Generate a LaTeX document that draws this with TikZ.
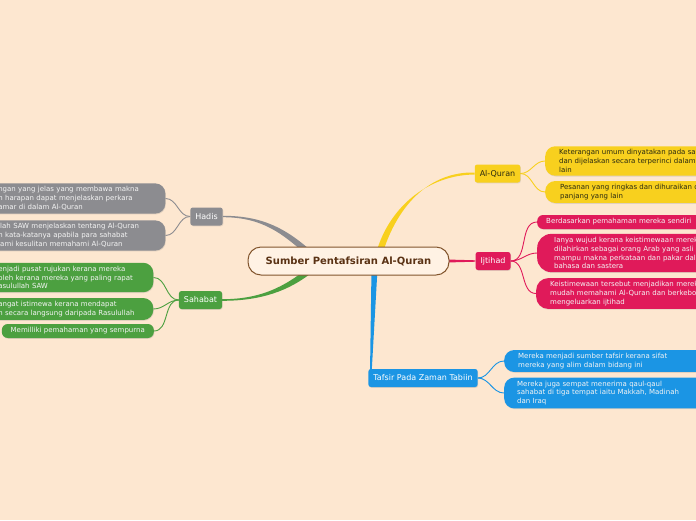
\documentclass[tikz,border=0pt]{standalone}
\usepackage{fontspec}
\setmainfont{DejaVu Sans}
\usetikzlibrary{calc,shadows}
\definecolor{bgc}{HTML}{FDE7D0}
\definecolor{cyel}{HTML}{F8D01E}
\definecolor{cred}{HTML}{E01A5A}
\definecolor{cblue}{HTML}{1B95E4}
\definecolor{cgray}{HTML}{8C8C90}
\definecolor{cgreen}{HTML}{4CA040}
\definecolor{ccream}{HTML}{FFF2E4}
\definecolor{cbrown}{HTML}{82552D}
\definecolor{ctitle}{HTML}{5A3214}
\definecolor{cdark}{HTML}{2A2A10}
\definecolor{clight}{HTML}{F4F4F4}
\pgfdeclarelayer{back}
\pgfdeclarelayer{bg}
\pgfsetlayers{back,bg,main}
\tikzset{
  shad/.style={drop shadow={opacity=0.22, shadow xshift=0.6pt, shadow yshift=-0.8pt}},
  mainbox/.style={shad, rounded corners=2.5pt, inner xsep=5pt, inner ysep=0pt,
    minimum height=18pt, font=\fontsize{8}{9.6}\selectfont},
  leafbox/.style={shad, align=left, inner ysep=3.2pt, rounded corners=10pt,
    font=\fontsize{7}{8.8}\selectfont},
  leafR/.style={leafbox, anchor=west, text width=200pt},
  leafL/.style={leafbox, anchor=east, inner xsep=12pt, text width=155pt},
  subline/.style={line width=0.9pt}
}
\begin{document}
\begin{tikzpicture}[x=1pt,y=-1pt]
\useasboundingbox (0,0) rectangle (696,520);
\clip (0,0) rectangle (696,520);
\begin{pgfonlayer}{back}
\fill[bgc] (0,0) rectangle (696,520);
\end{pgfonlayer}

% central
\node[draw=cbrown, line width=1pt, fill=ccream, rounded corners=13pt,
  minimum width=201pt, minimum height=28pt, inner sep=0pt,
  font=\fontsize{10}{12}\selectfont\bfseries, text=ctitle] (center) at (348.5,261) {Sumber Pentafsiran Al-Quran};

% main branches
\node[mainbox, fill=cyel, text=cdark] (alq) at (497.5,173.5) {Al-Quran};
\node[mainbox, fill=cred, text=white] (ijt) at (493,261) {Ijtihad};
\node[mainbox, fill=cblue, text=white] (tabiin) at (423,378) {Tafsir Pada Zaman Tabiin};
\node[mainbox, fill=cgray, text=white] (hadis) at (206.5,216.5) {Hadis};
\node[mainbox, fill=cgreen, text=white] (sahabat) at (200.5,300) {Sahabat};

% Al-Quran leaves
\node[leafR, fill=cyel, text=cdark, inner xsep=14pt] (aq1) at (545,161)
  {Keterangan umum dinyatakan pada sa\\dan dijelaskan secara terperinci dalam\\lain};
\node[leafR, fill=cyel, text=cdark, inner xsep=15pt] (aq2) at (545,192)
  {Pesanan yang ringkas dan dihuraikan d\\panjang yang lain};

% Ijtihad leaves
\node[leafR, fill=cred, text=clight, inner xsep=9pt, rounded corners=6pt, minimum height=14pt] (ij1) at (537,222)
  {Berdasarkan pemahaman mereka sendiri};
\node[leafR, fill=cred, text=clight, inner xsep=17pt, rounded corners=14pt] (ij2) at (537,253)
  {Ianya wujud kerana keistimewaan merek\\dilahirkan sebagai orang Arab yang asli y\\mampu makna perkataan dan pakar dal\\bahasa dan sastera};
\node[leafR, fill=cred, text=clight, inner xsep=14pt, rounded corners=12pt] (ij3) at (536,293.5)
  {Keistimewaan tersebut menjadikan merek\\mudah memahami Al-Quran dan berkebo\\mengeluarkan ijtihad};

% Tabiin leaves
\node[leafR, fill=cblue, text=clight, inner xsep=14pt] (tb1) at (504,361)
  {Mereka menjadi sumber tafsir kerana sifat\\mereka yang alim dalam bidang ini};
\node[leafR, fill=cblue, text=clight, inner xsep=13pt] (tb2) at (504,393)
  {Mereka juga sempat menerima qaul-qaul\\sahabat di tiga tempat iaitu Makkah, Madinah\\dan Iraq};

% Hadis leaves
\node[leafL, fill=cgray, text=clight] (hd1) at (165.5,198.5)
  {ngan yang jelas yang membawa makna\\n harapan dapat menjelaskan perkara\\amar di dalam Al-Quran};
\node[leafL, fill=cgray, text=clight] (hd2) at (165.5,235.5)
  {llah SAW menjelaskan tentang Al-Quran\\n kata-katanya apabila para sahabat\\lami kesulitan memahami Al-Quran};

% Sahabat leaves
\node[leafL, fill=cgreen, text=clight, text width=143pt] (sb1) at (153.5,277.5)
  {enjadi pusat rujukan kerana mereka\\oleh kerana mereka yang paling rapat\\asulullah SAW};
\node[leafL, fill=cgreen, text=clight, text width=143pt] (sb2) at (153.5,309)
  {angat istimewa kerana mendapat\\n secara langsung daripada Rasulullah};
\node[leafbox, anchor=east, align=center, fill=cgreen, text=clight, rounded corners=6pt,
  minimum width=152pt, minimum height=14pt, inner xsep=4pt] (sb3) at (154,331)
  {Memilliki pemahaman yang sempurna};

\begin{pgfonlayer}{bg}
% tapered main connectors
\fill[cgray] ($(hadis.east)+(0,-0.7)$) .. controls +(40,0) and +(-25,-22) .. ($(center)+(-37.4,-10.2)$)
  -- ($(center)+(-41.6,-5.8)$) .. controls +(-24,-21) and +(40,0) .. ($(hadis.east)+(0,0.7)$) -- cycle;
\fill[cgreen] ($(sahabat.east)+(0,-0.8)$) .. controls +(40,0) and +(-22,17) .. ($(center)+(-41.4,7.7)$)
  -- ($(center)+(-37.6,12.3)$) .. controls +(-22,17) and +(40,0) .. ($(sahabat.east)+(0,0.8)$) -- cycle;
\fill[cyel] ($(alq.west)+(0,-1)$) .. controls +(-45,-1) and +(15,-47) .. ($(center)+(34.5,-9)$)
  -- ($(center)+(28.5,-11)$) .. controls +(14,-45) and +(-45,0.5) .. ($(alq.west)+(0,1)$) -- cycle;
\fill[cblue] ($(center)+(23,8)$) -- ($(center)+(29,8)$) -- ($(tabiin.north west)+(3.5,2)$)
  -- ($(tabiin.north west)+(1.8,2)$) -- cycle;
\fill[cred] ($(center.east)+(-3,-1.5)$) -- ($(ijt.west)+(0,-0.7)$) -- ($(ijt.west)+(0,0.7)$)
  -- ($(center.east)+(-3,1.5)$) -- cycle;

% sub connectors
\draw[subline, cyel] (alq.east) to[out=0,in=180] (aq1.west);
\draw[subline, cyel] (alq.east) to[out=0,in=180] (aq2.west);
\draw[subline, cred] (ijt.east) to[out=0,in=180] (ij1.west);
\draw[subline, cred] (ijt.east) to[out=0,in=180] (ij2.west);
\draw[subline, cred] (ijt.east) to[out=0,in=180] (ij3.west);
\draw[subline, cblue] (tabiin.east) to[out=0,in=180] (tb1.west);
\draw[subline, cblue] (tabiin.east) to[out=0,in=180] (tb2.west);
\draw[subline, cgray] (hadis.west) to[out=180,in=0] (hd1.east);
\draw[subline, cgray] (hadis.west) to[out=180,in=0] (hd2.east);
\draw[subline, cgreen] (sahabat.west) to[out=180,in=0] (sb1.east);
\draw[subline, cgreen] (sahabat.west) to[out=180,in=0] (sb2.east);
\draw[subline, cgreen] (sahabat.west) to[out=180,in=0] (sb3.east);
\end{pgfonlayer}
\end{tikzpicture}
\end{document}
